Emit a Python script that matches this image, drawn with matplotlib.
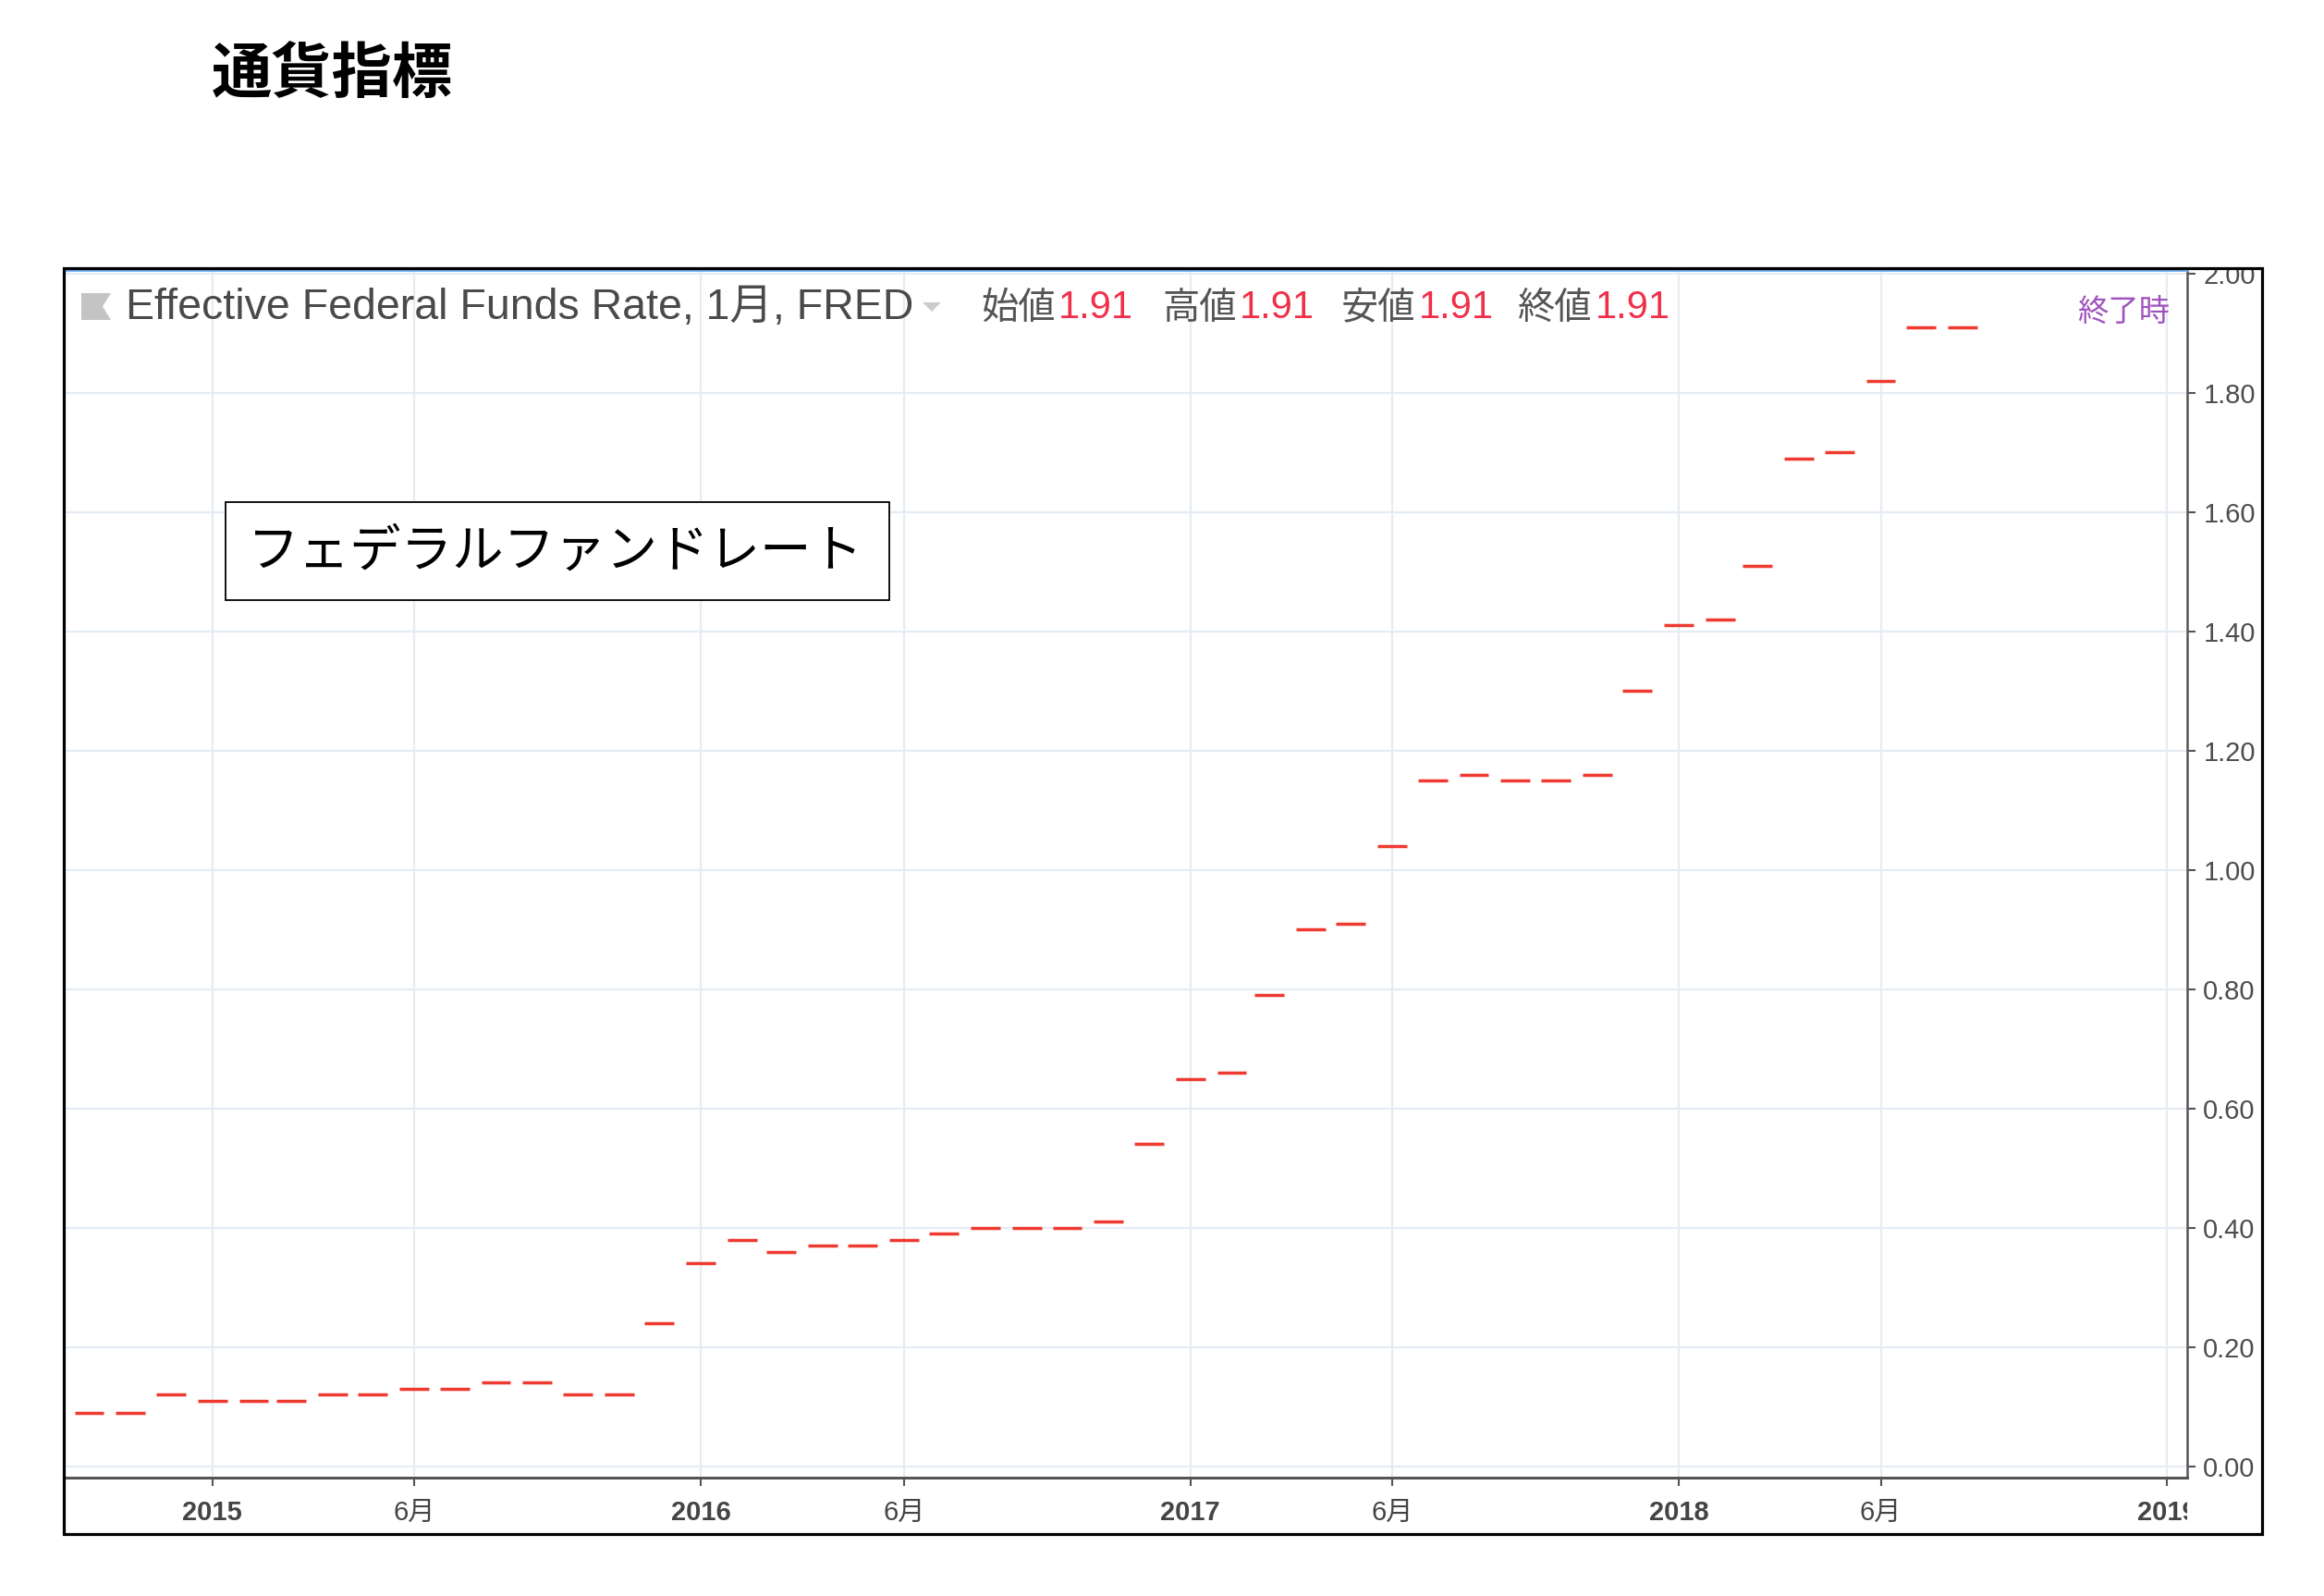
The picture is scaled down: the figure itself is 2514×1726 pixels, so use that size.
import numpy as np
import pandas as pd
import matplotlib
matplotlib.use('Agg')
import matplotlib.pyplot as plt
import matplotlib.dates as mdates
from matplotlib.patches import Rectangle, Polygon
from matplotlib.transforms import Bbox, TransformedBbox

plt.rcParams['font.family'] = ['Liberation Sans', 'Noto Sans CJK JP']

# monthly effective federal funds rate, Oct 2014 - Aug 2018
start_month = '2014-10-01'
rates = [0.09, 0.09, 0.12,
         0.11, 0.11, 0.11, 0.12, 0.12, 0.13, 0.13, 0.14, 0.14, 0.12, 0.12, 0.24,
         0.34, 0.38, 0.36, 0.37, 0.37, 0.38, 0.39, 0.40, 0.40, 0.40, 0.41, 0.54,
         0.65, 0.66, 0.79, 0.90, 0.91, 1.04, 1.15, 1.16, 1.15, 1.15, 1.16, 1.30,
         1.41, 1.42, 1.51, 1.69, 1.70, 1.82, 1.91, 1.91]

x_ticks = ['2015-01-01', '2015-06-01', '2016-01-01', '2016-06-01', '2017-01-01',
           '2017-06-01', '2018-01-01', '2018-06-01', '2019-01-01']
x_labels = ['2015', '6月', '2016', '6月', '2017', '6月', '2018', '6月', '2019']
y_ticks = [0.0, 0.2, 0.4, 0.6, 0.8, 1.0, 1.2, 1.4, 1.6, 1.8, 2.0]

ohlc_labels = ['始値', '高値', '安値', '終値']

W, H = 2514, 1726


def px(x, y):
    return (x / W, 1 - y / H)


fig = plt.figure(figsize=(W / 100, H / 100), dpi=100)
fig.patch.set_facecolor('white')

# plot area
ax = fig.add_axes([69 / W, 1 - 1598 / H, (2366 - 69) / W, (1598 - 292) / H])
months = pd.date_range(start_month, periods=len(rates), freq='MS')
xm = mdates.date2num(months.to_pydatetime())
half = 11
ax.hlines(rates, xm - half, xm + half, color='#ee3a2f', lw=2.5, zorder=3)

ax.set_xlim(mdates.date2num(pd.Timestamp('2014-09-12')),
            mdates.date2num(pd.Timestamp('2019-01-16')))
ax.set_ylim(-0.019, 2.006)

xt = mdates.date2num(pd.to_datetime(x_ticks).to_pydatetime())
ax.set_xticks(xt)
ax.set_xticklabels(x_labels)
ax.set_yticks(y_ticks)
ax.set_yticklabels([f'{v:.2f}' for v in y_ticks])
ax.yaxis.tick_right()

ax.grid(True, color='#e4ecf4', lw=1.6, zorder=0)
ax.set_axisbelow(True)

ax.spines['left'].set_visible(False)
ax.spines['top'].set_color('#6aaaf0')
ax.spines['top'].set_linewidth(2.0)
ax.spines['right'].set_color('#555555')
ax.spines['right'].set_linewidth(1.8)
ax.spines['bottom'].set_color('#555555')
ax.spines['bottom'].set_linewidth(2.2)

ax.tick_params(axis='y', length=6.5, width=1.5, color='#555555',
               labelsize=21, labelcolor='#4d4d4d', pad=6)
ax.tick_params(axis='x', length=6.5, width=1.5, color='#555555',
               labelsize=21, labelcolor='#444444', pad=11)

xclip = TransformedBbox(Bbox([[0, -0.2], [1, 0]]), ax.transAxes)
for lab in ax.get_xticklabels():
    if lab.get_text() != '6月':
        lab.set_fontweight('bold')
    lab.set_clip_on(True)
    lab.set_clip_box(xclip)
yclip = TransformedBbox(Bbox([[1, 0], [1.2, 1]]), ax.transAxes)
for lab in ax.get_yticklabels():
    lab.set_clip_on(True)
    lab.set_clip_box(yclip)

# header inside the chart
fig.add_artist(Polygon([px(88, 317), px(120, 317), px(111, 331.5), px(120, 346), px(88, 346)],
                       closed=True, transform=fig.transFigure, fc='#c4c4c4', ec='none'))
fig.text(*px(136, 333), 'Effective Federal Funds Rate, 1月, FRED', va='center',
         ha='left', fontsize=33.5, color='#4a4a4a')
fig.add_artist(Polygon([px(998, 327), px(1018, 327), px(1008, 337)], closed=True,
                       transform=fig.transFigure, fc='#cccccc', ec='none'))
label_x = [1061, 1257, 1451, 1642]
for lx, lab in zip(label_x, ohlc_labels):
    fig.text(*px(lx, 333), lab, va='center', ha='left', fontsize=29,
             color='#555555', family='Noto Sans CJK JP')
    fig.text(*px(lx + 84, 333), f'{rates[-1]:.2f}', va='center', ha='left',
             fontsize=30, color='#f0304a')
fig.text(*px(2347, 337), '終了時', va='center', ha='right', fontsize=24,
         color='#a052be', family='Noto Sans CJK JP')

# outer frame
fig.add_artist(Rectangle(px(69, 1659), (2447 - 69) / W, (1659 - 290) / H,
                         transform=fig.transFigure, fill=False, ec='black', lw=2.3, zorder=10))

# page title and annotation box
fig.text(*px(229, 81), '通貨指標', va='center', ha='left', fontsize=47,
         fontweight='bold', family='Noto Sans CJK JP', color='black')
fig.add_artist(Rectangle(px(244, 649), (962 - 244) / W, (649 - 543) / H,
                         transform=fig.transFigure, fc='white', ec='black', lw=1.3, zorder=5))
fig.text(*px(601, 597), 'フェデラルファンドレート', va='center', ha='center', fontsize=40,
         family='Noto Sans CJK JP', color='black', zorder=6)

fig.savefig('out.png', dpi=100)
